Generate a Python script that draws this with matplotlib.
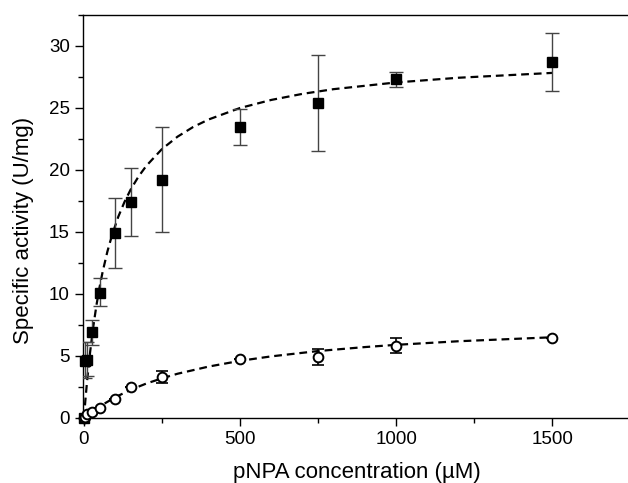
import numpy as np
import matplotlib
matplotlib.use('Agg')
import matplotlib.pyplot as plt
from matplotlib.ticker import MultipleLocator

plt.rcParams['font.family'] = ['Liberation Sans', 'DejaVu Sans']

# wild type (filled squares)
sq_x = [0, 5, 10, 25, 50, 100, 150, 250, 500, 750, 1000, 1500]
sq_y = [0, 4.6, 4.7, 6.9, 10.1, 14.9, 17.4, 19.2, 23.45, 25.4, 27.3, 28.7]
sq_lo = [0, 1.4, 1.3, 1.0, 1.1, 2.8, 2.7, 4.2, 1.4, 3.9, 0.6, 2.35]
sq_hi = [0, 1.5, 1.4, 1.0, 1.2, 2.85, 2.8, 4.3, 1.45, 3.9, 0.6, 2.35]

# mutant (open circles)
ci_x = [0, 5, 10, 25, 50, 100, 150, 250, 500, 750, 1000, 1500]
ci_y = [0, 0.1, 0.3, 0.5, 0.78, 1.53, 2.5, 3.29, 4.79, 4.95, 5.84, 6.49]
ci_err = [0, 0, 0, 0, 0, 0, 0, 0.5, 0, 0.65, 0.62, 0]

# fitted curves
fit1_x = [0, 5, 10, 20, 30, 40, 50, 60, 75, 90, 110, 130, 150, 175, 200, 250,
          300, 350, 400, 500, 600, 700, 800, 1000, 1200, 1500]
fit1_y = [0, 1.55, 2.95, 5.36, 7.38, 9.08, 10.54, 11.8, 13.41, 14.75, 16.23,
          17.43, 18.44, 19.48, 20.34, 21.69, 22.69, 23.47, 24.08, 25.0, 25.65,
          26.14, 26.52, 27.06, 27.44, 27.83]
fit2_x = [0, 10, 25, 50, 100, 150, 200, 250, 300, 400, 500, 600, 750, 900,
          1000, 1200, 1500]
fit2_y = [0, 0.21, 0.49, 0.93, 1.67, 2.28, 2.78, 3.2, 3.57, 4.15, 4.61, 4.97,
          5.4, 5.72, 5.9, 6.19, 6.51]

fig = plt.figure(figsize=(6.28, 4.83), dpi=100)
ax = fig.add_axes([83/628, 65/483, 545/628, 403/483])

ax.plot(fit1_x, fit1_y, color='black', lw=1.6, linestyle=(0, (3.5, 2.2)), zorder=2)
ax.plot(fit2_x, fit2_y, color='black', lw=1.6, linestyle=(0, (3.5, 2.2)), zorder=2)

ax.errorbar(sq_x, sq_y, yerr=[sq_lo, sq_hi], fmt='none', ecolor='#444444',
            elinewidth=1.0, capsize=5, capthick=1.0, zorder=3)
ax.plot(sq_x, sq_y, 's', color='black', ms=7, zorder=4, clip_on=False)

ax.errorbar(ci_x, ci_y, yerr=ci_err, fmt='none', ecolor='black',
            elinewidth=1.2, capsize=4, capthick=1.2, zorder=3)
ax.plot(ci_x, ci_y, 'o', mfc='white', mec='black', mew=1.4, ms=7, zorder=4,
        clip_on=False)

ax.set_xlim(-3, 1743)
ax.set_ylim(0, 32.5)
ax.xaxis.set_major_locator(MultipleLocator(500))
ax.xaxis.set_minor_locator(MultipleLocator(250))
ax.yaxis.set_major_locator(MultipleLocator(5))
ax.yaxis.set_minor_locator(MultipleLocator(2.5))
ax.tick_params(which='major', direction='out', length=6, width=1, labelsize=13.5)
ax.tick_params(which='minor', direction='out', length=3.5, width=1)
ax.spines['right'].set_visible(False)
for s in ['left', 'bottom', 'top']:
    ax.spines[s].set_linewidth(1.0)

ax.set_xlabel('pNPA concentration (µM)', fontsize=16)
ax.set_ylabel('Specific activity (U/mg)', fontsize=16)
ax.xaxis.set_label_coords(0.502, -0.110)
ax.yaxis.set_label_coords(-0.09, 0.465)

fig.savefig('out.png', dpi=100)
